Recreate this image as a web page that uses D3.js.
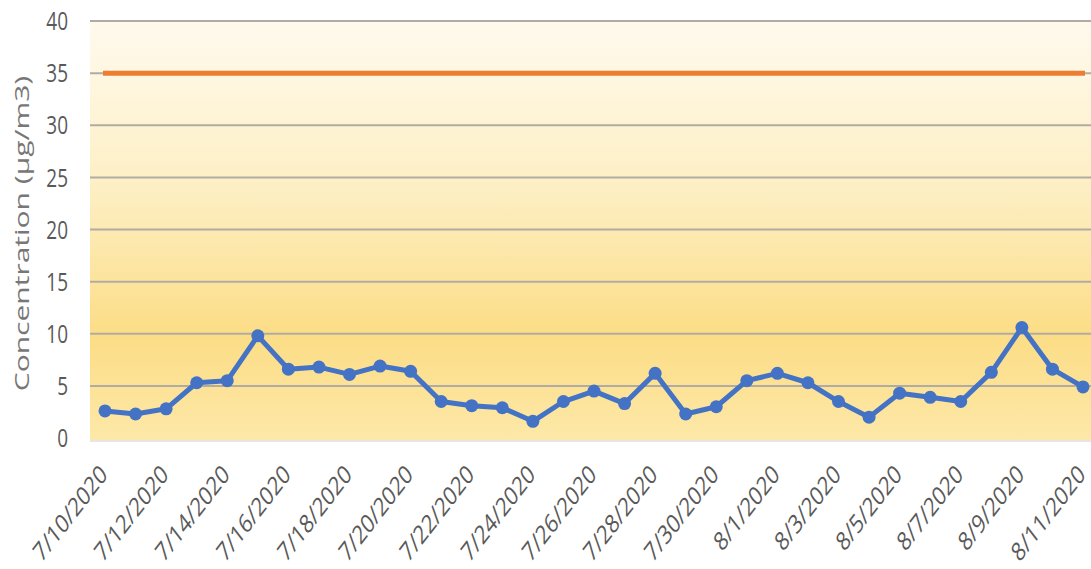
<!DOCTYPE html>
<html>
<head>
<meta charset="utf-8">
<script src="https://cdn.jsdelivr.net/npm/d3@7"></script>
<style>
  body { margin: 0; background: #fff; }
  svg { display: block; }
  .tick text { fill: #595959; }
</style>
</head>
<body>
<svg id="chart" width="1091" height="569"></svg>
<script>
// daily dates, 7/10/2020 .. 8/11/2020
var dates = ["7/10/2020","7/11/2020","7/12/2020","7/13/2020","7/14/2020","7/15/2020","7/16/2020",
  "7/17/2020","7/18/2020","7/19/2020","7/20/2020","7/21/2020","7/22/2020","7/23/2020","7/24/2020",
  "7/25/2020","7/26/2020","7/27/2020","7/28/2020","7/29/2020","7/30/2020","7/31/2020","8/1/2020",
  "8/2/2020","8/3/2020","8/4/2020","8/5/2020","8/6/2020","8/7/2020","8/8/2020","8/9/2020",
  "8/10/2020","8/11/2020"]
var concentration = [2.6, 2.3, 2.8, 5.3, 5.5, 9.8, 6.6, 6.8, 6.1, 6.9, 6.4, 3.5, 3.1, 2.9, 1.6,
  3.5, 4.5, 3.3, 6.2, 2.3, 3.0, 5.5, 6.2, 5.3, 3.5, 2.0, 4.3, 3.9, 3.5, 6.3, 10.6, 6.6, 4.9]
var limitValue = 35
var yTicks = [0, 5, 10, 15, 20, 25, 30, 35, 40]

var svg = d3.select("#chart")
var margin = {top: 21, right: 0, bottom: 131, left: 90},
    width = 1091 - margin.left - margin.right,
    height = 569 - margin.top - margin.bottom

// the source picture is stretched vertically a bit, text included
var stretch = 1.3

var x = d3.scalePoint().domain(dates).range([15, width - 8])
var y = d3.scaleLinear().domain([0, 40]).range([height, 0])

// background gradient
var defs = svg.append("defs")
var grad = defs.append("linearGradient").attr("id", "bg")
    .attr("x1", 0).attr("y1", 0).attr("x2", 0).attr("y2", 1)
grad.append("stop").attr("offset", "0%").attr("stop-color", "#fffaee")
grad.append("stop").attr("offset", "40%").attr("stop-color", "#fdefc4")
grad.append("stop").attr("offset", "75%").attr("stop-color", "#fcdd86")
grad.append("stop").attr("offset", "100%").attr("stop-color", "#fde8a8")

var g = svg.append("g").attr("transform", "translate(" + margin.left + "," + margin.top + ")")

g.append("rect").attr("x", 0).attr("y", 0).attr("width", width).attr("height", height + 2)
    .attr("fill", "url(#bg)")
g.append("line").attr("x1", 0).attr("x2", width).attr("y1", height + 3).attr("y2", height + 3)
    .attr("stroke", "#e6e6ea").attr("stroke-width", 2)

// gridlines
g.append("g").selectAll("line").data(yTicks).enter().append("line")
    .attr("x1", 0).attr("x2", width)
    .attr("y1", function(d) { return y(d) }).attr("y2", function(d) { return y(d) })
    .attr("stroke", function(d) { return d == 0 ? "none" : "#b0aca4" })
    .attr("stroke-width", 2)

// y axis
var yAxis = d3.axisLeft(y).tickValues(yTicks).tickSize(0).tickPadding(22)
g.append("g").call(yAxis)
    .call(function(s) { s.select(".domain").remove() })
    .selectAll("text")
    .style("font-family", "'Open Sans', sans-serif")
    .style("font-size", "19px")
    .attr("dy", "0.35em")
    .attr("transform", "scale(1," + stretch + ")")

// x axis
var xAxis = d3.axisBottom(x)
    .tickValues(dates.filter(function(d, i) { return i % 2 == 0 }))
    .tickSize(0).tickPadding(0)
g.append("g").attr("transform", "translate(0," + height + ")").call(xAxis)
    .call(function(s) { s.select(".domain").remove() })
    .selectAll("text")
    .style("font-family", "'Open Sans', sans-serif")
    .style("font-size", "20px")
    .style("text-anchor", "end")
    .attr("y", 0).attr("dy", 0)
    .attr("transform", "translate(3,38) scale(1," + stretch + ") rotate(-45)")

// y title
svg.append("text")
    .attr("transform", "translate(29," + (margin.top + height / 2 + 4) + ") rotate(-90) scale(1.5,1)")
    .attr("text-anchor", "middle")
    .style("font-family", "'Open Sans', sans-serif")
    .style("font-size", "20px")
    .attr("fill", "#777777")
    .text("Concentration (µg/m3)")

// limit line
g.append("line")
    .attr("x1", x(dates[0]) - 2).attr("x2", x(dates[dates.length - 1]) + 2)
    .attr("y1", y(limitValue)).attr("y2", y(limitValue))
    .attr("stroke", "#ed7d31").attr("stroke-width", 5)

// concentration series
var line = d3.line()
    .x(function(d, i) { return x(dates[i]) })
    .y(function(d) { return y(d) })

g.append("path").datum(concentration)
    .attr("d", line)
    .attr("fill", "none")
    .attr("stroke", "#4472c4")
    .attr("stroke-width", 5)
    .attr("stroke-linejoin", "round")

g.selectAll(".dot").data(concentration).enter().append("circle")
    .attr("class", "dot")
    .attr("cx", function(d, i) { return x(dates[i]) })
    .attr("cy", function(d) { return y(d) })
    .attr("r", 6.5)
    .attr("fill", "#4472c4")
</script>
</body>
</html>
